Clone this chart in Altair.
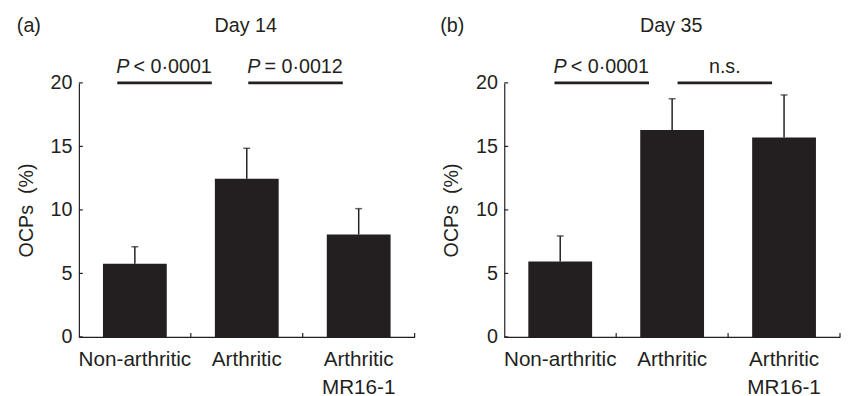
import altair as alt
import pandas as pd

# ---- data ----
groups = ["Non-arthritic", "Arthritic", "Arthritic\nMR16-1"]

day14_mean = [5.76, 12.45, 8.06]
day14_upper = [7.1, 14.85, 10.1]

day35_mean = [5.94, 16.3, 15.7]
day35_upper = [7.95, 18.75, 19.05]

y_ticks = [0, 5, 10, 15, 20]

panel_letters = ["(a)", "(b)"]
panel_titles = ["Day 14", "Day 35"]

# significance brackets: (italic part, rest of label)
day14_sig = [("P", " < 0·0001"), ("P", " = 0·0012")]
day35_sig = [("P", " < 0·0001"), ("", "n.s.")]

INK = "#231f20"
FONT = "Liberation Sans"
W, H = 341, 258
FS = 20


def panel(letter, title, means, uppers, sig, sig_pos, letter_x):
    df = pd.DataFrame({"group": groups, "mean": means, "upper": uppers})
    xenc = alt.X(
        "group:N",
        sort=groups,
        scale=alt.Scale(paddingInner=0, paddingOuter=0),
        axis=alt.Axis(
            title=None,
            labelAngle=0,
            ticks=False,
            labelExpr="split(datum.label, '\\n')",
            labelPadding=12,
            labelLineHeight=28,
            labelFontSize=21,
        ),
    )
    yenc = alt.Y(
        "mean:Q",
        scale=alt.Scale(domain=[0, 20], nice=False),
        axis=alt.Axis(
            values=y_ticks,
            ticks=False,
            grid=False,
            title="OCPs\u00a0 (%)",
            titlePadding=14,
            labelPadding=7,
            labelFontSize=FS,
            titleFontSize=FS,
            titleFontWeight="normal",
        ),
    )
    base = alt.Chart(df)
    bars = base.mark_bar(color=INK, width=alt.RelativeBandSize(0.57)).encode(x=xenc, y=yenc)
    err = base.mark_rule(color=INK, strokeWidth=1.5).encode(
        x=alt.X("group:N", sort=groups), y="mean:Q", y2="upper:Q"
    )
    caps = base.mark_tick(color=INK, size=7, thickness=1.5).encode(
        x=alt.X("group:N", sort=groups), y="upper:Q"
    )
    xt = base.mark_rule(color=INK, strokeWidth=1.2).encode(
        x=alt.X("group:N", sort=groups, bandPosition=1),
        y=alt.value(H),
        y2=alt.value(H - 4),
    )
    yt = alt.Chart(pd.DataFrame({"v": y_ticks})).mark_rule(color=INK, strokeWidth=1.2).encode(
        y="v:Q", x=alt.value(0), x2=alt.value(4)
    )
    layers = [bars, err, caps, xt, yt]

    for (ital, rest), (x0, x1) in zip(sig, sig_pos):
        sdf = pd.DataFrame({"ital": [ital], "rest": [rest]})
        sc = alt.Chart(sdf)
        layers.append(
            sc.mark_rule(color=INK, strokeWidth=3).encode(
                x=alt.value(x0), x2=alt.value(x1), y=alt.value(0)
            )
        )
        if ital:
            layers.append(
                sc.mark_text(font=FONT, fontSize=FS, fontStyle="italic", align="left",
                             baseline="alphabetic", color=INK).encode(
                    text="ital:N", x=alt.value(x0 - 1), y=alt.value(-10)
                )
            )
            layers.append(
                sc.mark_text(font=FONT, fontSize=FS, align="right",
                             baseline="alphabetic", color=INK).encode(
                    text="rest:N", x=alt.value(x1), y=alt.value(-10)
                )
            )
        else:
            layers.append(
                sc.mark_text(font=FONT, fontSize=FS, align="center",
                             baseline="alphabetic", color=INK).encode(
                    text="rest:N", x=alt.value((x0 + x1) / 2), y=alt.value(-10)
                )
            )

    tdf = pd.DataFrame({"letter": [letter], "title": [title]})
    tc = alt.Chart(tdf)
    layers.append(
        tc.mark_text(font=FONT, fontSize=FS, align="left", baseline="alphabetic", color=INK).encode(
            text="letter:N", x=alt.value(letter_x), y=alt.value(-52)
        )
    )
    layers.append(
        tc.mark_text(font=FONT, fontSize=FS, align="center", baseline="alphabetic", color=INK).encode(
            text="title:N", x=alt.value(W / 2 - 1), y=alt.value(-52)
        )
    )
    return alt.layer(*layers).properties(width=W, height=H)


a = panel(panel_letters[0], panel_titles[0], day14_mean, day14_upper, day14_sig,
          [(39, 135), (172, 268)], -63)
b = panel(panel_letters[1], panel_titles[1], day35_mean, day35_upper, day35_sig,
          [(51, 147), (176, 272)], -65)

chart = (
    alt.hconcat(a, b, spacing=25)
    .properties(padding={"left": 8, "top": 5, "right": 0, "bottom": 0})
    .configure_view(stroke=None)
    .configure_axis(
        labelFont=FONT,
        titleFont=FONT,
        labelColor=INK,
        titleColor=INK,
        domainColor=INK,
        domainWidth=1.2,
    )
)

chart.save("out.html", embed_options={"renderer": "svg", "actions": False})
